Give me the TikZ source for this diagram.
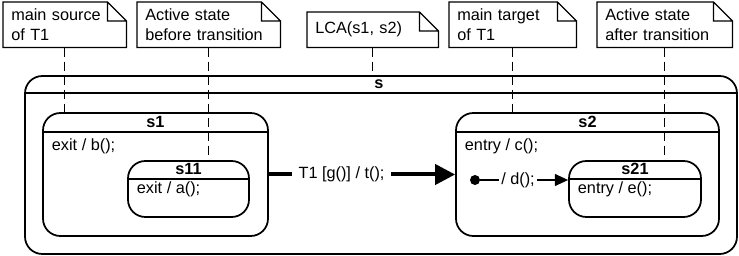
\documentclass[tikz,border=0pt]{standalone}
\usepackage{fontspec}
\setmainfont{Liberation Sans}
\usetikzlibrary{positioning,arrows.meta,fit,calc}

\begin{document}
\begin{tikzpicture}[x=0.75pt, y=-0.75pt, font=\fontsize{12.2}{15}\selectfont,
  state/.style={draw, line width=1.3pt, rounded corners=13pt, inner sep=0pt},
  sep/.style={line width=1.3pt},
  title/.style={font=\fontsize{12.2}{15}\selectfont\bfseries, inner sep=1pt},
  act/.style={anchor=west, inner sep=2pt},
  note/.style={anchor=north west, align=left, inner xsep=6pt, inner ysep=0pt, minimum height=33.75pt},
  tie/.style={line width=1pt, dash pattern=on 7pt off 3.5pt},
  lbl/.style={fill=white, inner ysep=1pt, inner xsep=#1},
  lbl/.default=2pt,
  initdot/.style={circle, fill, inner sep=0pt, minimum size=7.5pt}]
\useasboundingbox (0,0) rectangle (739,256);
% comment notes
\node[note, text width=80.25pt] (srcnote) at (3,2) {main source\\of T1};
\node[note, text width=95.25pt] (beforenote) at (137,2) {Active state\\before transition};
\node[note, text width=86.25pt, minimum height=26.25pt] (lcanote) at (307,12) {LCA(s1, s2)};
\node[note, text width=83.25pt] (tgtnote) at (449,2) {main target\\of T1};
\node[note, text width=89.25pt] (afternote) at (597,2) {Active state\\after transition};
\foreach \n in {srcnote,beforenote,lcanote,tgtnote,afternote}
  \draw[line width=1pt] (\n.north west) -- ([xshift=-14.25pt]\n.north east) -- ([yshift=-14.25pt]\n.north east)
    -- (\n.south east) -- (\n.south west) -- cycle
    ([xshift=-14.25pt]\n.north east) |- ([yshift=-14.25pt]\n.north east);
% states
\node[state, fit={(25,76) (737,254)}] (s) {};
\node[state, fit={(43,113) (268,236)}] (s1) {};
\node[state, fit={(128,161) (249,217)}] (s11) {};
\node[state, fit={(456,113) (719,236)}] (s2) {};
\node[state, fit={(569,161) (701,217)}] (s21) {};
\draw[sep] ([yshift=-13.5pt]s.north west) -- ([yshift=-13.5pt]s.north east);
\draw[sep] ([yshift=-15pt]s1.north west) -- ([yshift=-15pt]s1.north east);
\draw[sep] ([yshift=-14.25pt]s11.north west) -- ([yshift=-14.25pt]s11.north east);
\draw[sep] ([yshift=-15pt]s2.north west) -- ([yshift=-15pt]s2.north east);
\draw[sep] ([yshift=-14.25pt]s21.north west) -- ([yshift=-14.25pt]s21.north east);
\node[title] (stitle) at (379,84.5) {s};
\node[title] (s1title) at (155.5,122) {s1};
\node[title] (s11title) at (188.5,169) {s11};
\node[title] (s2title) at (587.5,122) {s2};
\node[title] (s21title) at (635,169) {s21};
\node[act] (s1exit) at (49,146) {exit / b();};
\node[act] (s11exit) at (134,189) {exit / a();};
\node[act] (s2entry) at (462,146) {entry / c();};
\node[act] (s21entry) at (575,189) {entry / e();};
\node[initdot] (init) at (475,180) {};
% transitions
\draw[line width=3pt, -{Triangle[length=15pt, width=15pt]}] (s1) -- node[lbl=5pt, pos=0.39] (t1lbl) {T1 [g()] / t();} (s2);
\draw[line width=1pt, -{Triangle[length=10pt, width=9pt]}] (init) -- node[lbl, pos=0.43] (dlbl) {/ d();} (init -| s21.west);
% note ties
\draw[tie] (srcnote) -- (srcnote |- s1.north);
\draw[tie] (beforenote) -- (beforenote |- s11.north);
\draw[tie] (lcanote) -- (lcanote |- s.north);
\draw[tie] (tgtnote) -- (tgtnote |- s2.north);
\draw[tie] (afternote) -- (afternote |- s21.north);
\end{tikzpicture}
\end{document}
